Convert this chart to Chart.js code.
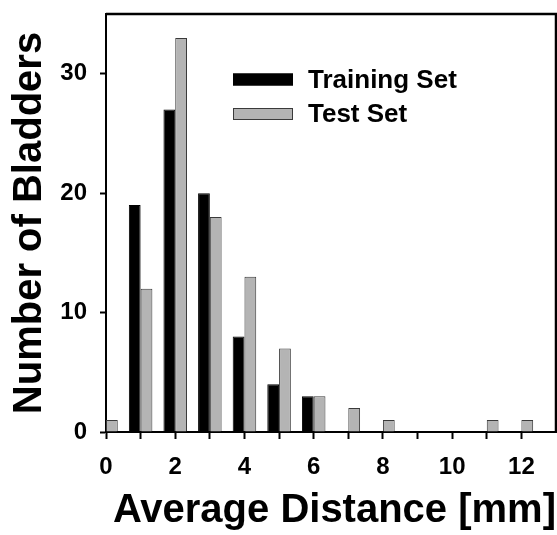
<!DOCTYPE html>
<html>
<head>
<meta charset="utf-8">
<script src="https://cdn.jsdelivr.net/npm/chart.js@4"></script>
<style>
  body { margin: 0; background: #fff; }
</style>
</head>
<body>
<canvas id="histChart" width="557" height="535"></canvas>
<script>
// histogram bins (mm) and counts per set
const bins = [0, 1, 2, 3, 4, 5, 6, 7, 8, 9, 10, 11, 12];
const trainingCounts = [null, 19, 27, 20, 8, 4, 3, null, null, null, null, null, null];
const testCounts = [1, 12, 33, 18, 13, 7, 3, 2, 1, null, null, 1, 1];
const xTicks = [0, 2, 4, 6, 8, 10, 12];
const yTicks = [0, 10, 20, 30];

const FONT = '"Liberation Sans", Arial, Helvetica, sans-serif';

const toPoints = (vals) => bins.map((b, i) => ({ x: b, y: vals[i] }));

// box around the plot (top + right edges)
const framePlugin = {
  id: 'frame',
  afterDraw(chart) {
    const { ctx, chartArea: a } = chart;
    ctx.save();
    ctx.strokeStyle = '#000';
    ctx.lineWidth = 2.5;
    ctx.beginPath();
    ctx.moveTo(a.left, a.top);
    ctx.lineTo(a.right, a.top);
    ctx.lineTo(a.right, a.bottom);
    ctx.stroke();
    ctx.restore();
  }
};

// legend sits inside the plot
const innerLegend = {
  id: 'innerLegend',
  afterDraw(chart) {
    const { ctx, chartArea: a } = chart;
    ctx.save();
    ctx.font = 'bold 26px ' + FONT;
    ctx.textBaseline = 'middle';
    chart.data.datasets.forEach((ds, i) => {
      const y = a.top + 65.5 + i * 34.5;
      ctx.fillStyle = ds.backgroundColor;
      ctx.strokeStyle = ds.borderColor;
      ctx.lineWidth = 1;
      ctx.fillRect(a.left + 127, y - 6, 60, 12);
      ctx.strokeRect(a.left + 127.5, y - 5.5, 59, 11);
      ctx.fillStyle = '#000';
      ctx.fillText(ds.label, a.left + 202, y + 1);
    });
    ctx.restore();
  }
};

new Chart(document.getElementById('histChart'), {
  type: 'bar',
  data: {
    datasets: [
      {
        label: 'Training Set',
        data: toPoints(trainingCounts),
        backgroundColor: '#000000',
        borderColor: '#000000',
        borderWidth: 1
      },
      {
        label: 'Test Set',
        data: toPoints(testCounts),
        backgroundColor: '#b4b4b4',
        borderColor: '#3a3a3a',
        borderWidth: 1
      }
    ]
  },
  options: {
    responsive: false,
    animation: false,
    events: [],
    layout: { padding: { top: 14, right: 1, left: 0, bottom: 0 } },
    datasets: {
      bar: { categoryPercentage: 0.68, barPercentage: 1.0 }
    },
    plugins: {
      legend: { display: false },
      tooltip: { enabled: false }
    },
    scales: {
      x: {
        type: 'linear',
        min: 0,
        max: 13,
        offset: false,
        afterFit: (s) => {
          s.height = 103;
          s.paddingLeft = 0;
          s.paddingRight = 0;
        },
        afterBuildTicks: (s) => {
          s.ticks = bins.map(v => ({ value: v }));
        },
        grid: {
          offset: false,
          drawOnChartArea: false,
          drawTicks: true,
          tickLength: 7,
          tickWidth: 2,
          tickColor: '#000'
        },
        border: { display: true, color: '#000', width: 2 },
        ticks: {
          autoSkip: false,
          maxRotation: 0,
          padding: 14,
          color: '#000',
          font: { family: FONT, size: 24, weight: 'bold' },
          callback: (v) => xTicks.includes(v) ? String(v) : ''
        },
        title: {
          display: true,
          text: 'Average Distance [mm]',
          align: 'end',
          color: '#000',
          font: { family: FONT, size: 40, weight: 'bold', lineHeight: 1.2 },
          padding: { top: 0, bottom: 0 }
        }
      },
      y: {
        min: 0,
        max: 35,
        afterFit: (s) => {
          s.width = 106;
          s.paddingTop = 0;
          s.paddingBottom = 0;
        },
        afterBuildTicks: (s) => {
          s.ticks = yTicks.map(v => ({ value: v }));
        },
        grid: {
          drawOnChartArea: false,
          drawTicks: true,
          tickLength: 6,
          tickWidth: 2,
          tickColor: '#000'
        },
        border: { display: true, color: '#000', width: 2 },
        ticks: {
          padding: 13,
          color: '#000',
          font: { family: FONT, size: 24, weight: 'bold' }
        },
        title: {
          display: true,
          text: 'Number of Bladders',
          color: '#000',
          font: { family: FONT, size: 40, weight: 'bold', lineHeight: 1.2 },
          padding: { top: 6, bottom: 0 }
        }
      }
    }
  },
  plugins: [framePlugin, innerLegend]
});
</script>
</body>
</html>
